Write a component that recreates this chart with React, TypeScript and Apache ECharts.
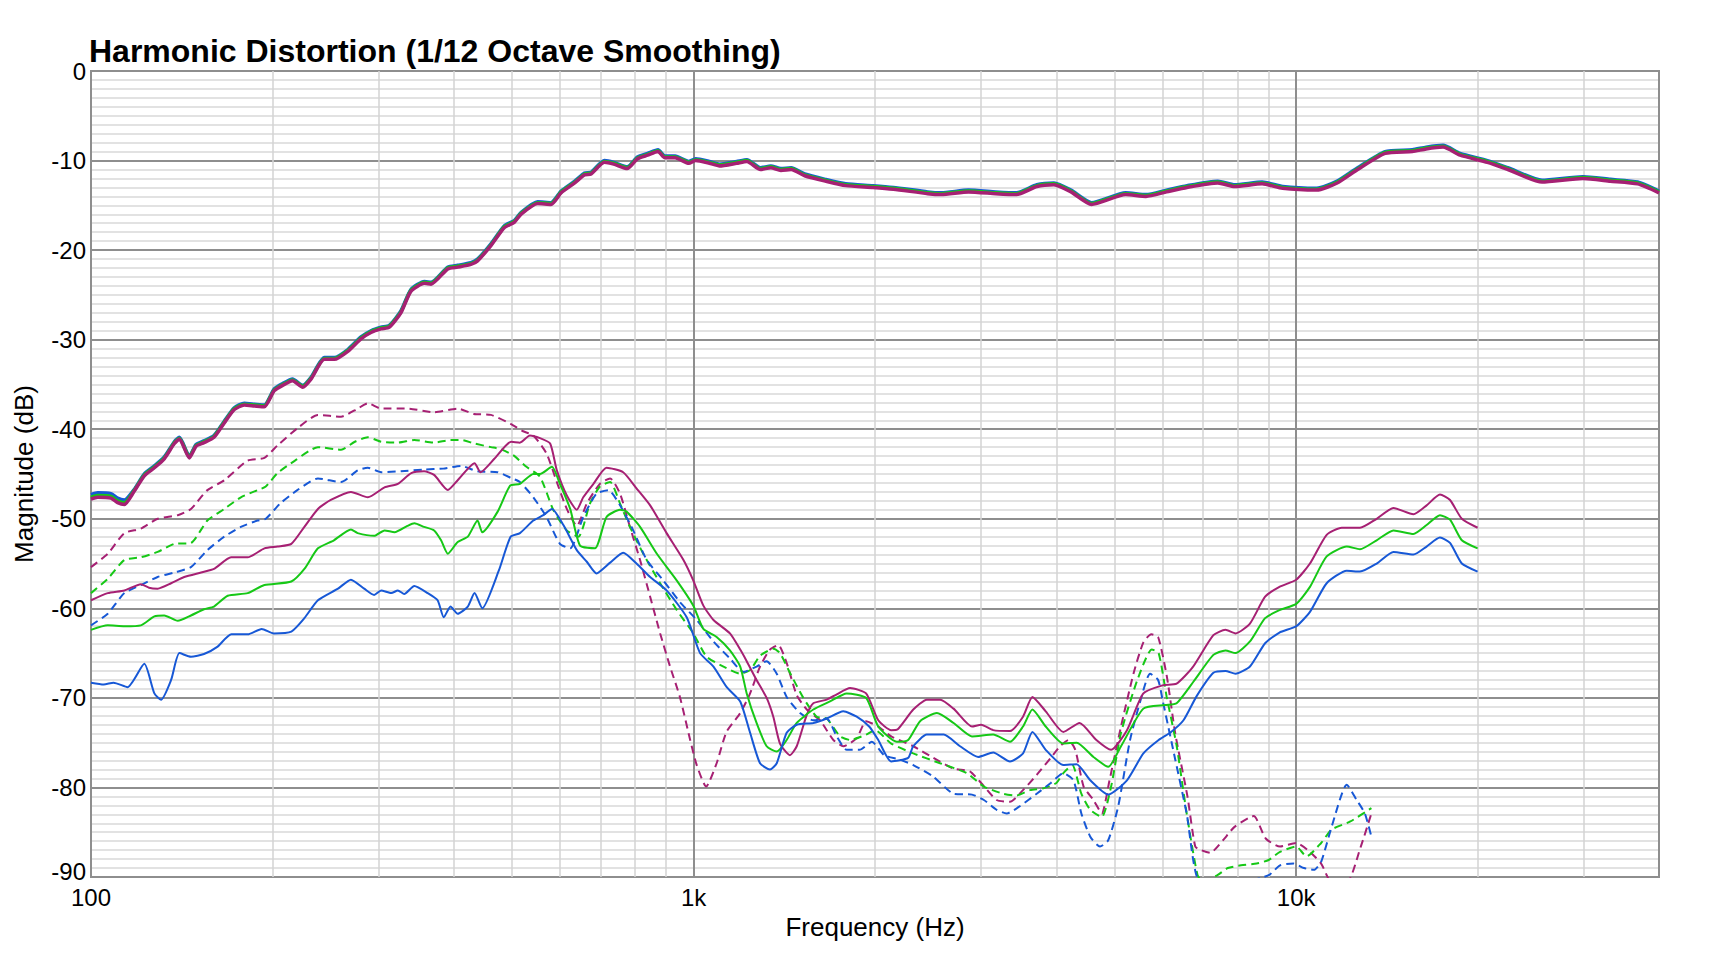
import React, { useEffect, useRef } from 'react';
import * as echarts from 'echarts';

const FONT = '"Liberation Sans", Arial, Helvetica, sans-serif';

const BLUE = '#1758d6';
const GREEN = '#16c816';
const MAGENTA = '#a62073';

// y ticks (dB) and x ticks shown as labels
const yTicks = [0, -10, -20, -30, -40, -50, -60, -70, -80, -90];
const xTickLabels: Record<number, string> = { 100: '100', 1000: '1k', 10000: '10k' };
// light vertical grid lines between decades
const minorGridFreqs = [200, 300, 400, 500, 600, 700, 800, 900, 2000, 3000, 4000, 5000, 6000, 7000, 8000, 9000, 20000, 30000];

// fundamental (three drive levels, almost on top of each other)
const fundFreq = [
  100, 102.6, 107.9, 110.7, 113.6, 118, 122.6, 127.4, 132.3, 137.5,
  140.2, 145.6, 149.4, 154, 160, 166.4, 172.9, 179.6, 186.6, 193.9,
  201.4, 208, 216, 224.5, 231.8, 243.9, 253.4, 266.8, 280.6, 291.5,
  302.9, 312.7, 326.8, 339.5, 357.5, 366.7, 390.8, 406, 427, 438,
  461, 485, 504, 517, 551, 580, 603, 635, 659, 676,
  711, 737, 776, 807, 839, 873, 896, 932, 982, 1008,
  1062, 1104, 1179, 1226, 1291, 1343, 1396, 1452, 1529, 1654,
  1788, 1985, 2146, 2446, 2576, 2859, 3174, 3433, 3712, 3962,
  4229, 4574, 5212, 5633, 6093, 6588, 7411, 7907, 8778, 9493,
  10815, 11695, 12647, 14045, 15588, 16424, 17527, 18707, 20763, 22454,
  25585, 29917, 33210, 36864, 40000,
];
const fundMagenta = [
  -47.8, -47.6, -47.7, -48.2, -48.4, -46.9, -45.2, -44.3, -43.3, -41.6,
  -41.1, -43.2, -41.9, -41.5, -40.9, -39.3, -37.8, -37.3, -37.4, -37.5,
  -35.7, -35.1, -34.6, -35.3, -34.4, -32.2, -32.2, -31.3, -29.9, -29.2,
  -28.8, -28.6, -27.0, -24.6, -23.7, -23.8, -22.1, -21.9, -21.6, -21.2,
  -19.5, -17.5, -16.9, -16.0, -14.8, -14.9, -13.6, -12.5, -11.6, -11.5,
  -10.2, -10.4, -10.9, -9.8, -9.4, -9.0, -9.7, -9.7, -10.3, -10.0,
  -10.3, -10.6, -10.3, -10.1, -11.0, -10.8, -11.1, -11.0, -11.7, -12.3,
  -12.8, -13.0, -13.2, -13.7, -13.8, -13.5, -13.7, -13.8, -12.9, -12.7,
  -13.5, -14.9, -13.8, -14.0, -13.5, -13.0, -12.5, -12.9, -12.6, -13.1,
  -13.3, -12.5, -11.0, -9.2, -9.0, -8.7, -8.5, -9.4, -10.2, -11.0,
  -12.4, -12.0, -12.3, -12.6, -13.6,
];
const fundGreen = [
  -47.6, -47.4, -47.5, -48.0, -48.2, -46.8, -45.1, -44.2, -43.2, -41.5,
  -41.0, -43.1, -41.8, -41.4, -40.8, -39.2, -37.7, -37.2, -37.3, -37.4,
  -35.6, -35.0, -34.5, -35.2, -34.3, -32.1, -32.1, -31.2, -29.8, -29.1,
  -28.7, -28.5, -26.9, -24.5, -23.6, -23.7, -22.0, -21.8, -21.5, -21.1,
  -19.4, -17.4, -16.8, -15.9, -14.7, -14.8, -13.5, -12.4, -11.5, -11.4,
  -10.1, -10.3, -10.8, -9.7, -9.3, -8.9, -9.6, -9.6, -10.2, -9.9,
  -10.2, -10.5, -10.2, -10.0, -10.9, -10.7, -11.0, -10.9, -11.6, -12.2,
  -12.7, -12.9, -13.1, -13.6, -13.7, -13.4, -13.6, -13.7, -12.8, -12.6,
  -13.4, -14.8, -13.7, -13.9, -13.4, -12.9, -12.4, -12.8, -12.5, -13.0,
  -13.2, -12.4, -10.9, -9.1, -8.9, -8.6, -8.4, -9.3, -10.1, -10.9,
  -12.3, -11.9, -12.2, -12.5, -13.5,
];
const fundBlue = [
  -47.3, -47.1, -47.2, -47.7, -47.9, -46.7, -45.0, -44.1, -43.1, -41.4,
  -40.9, -43.0, -41.7, -41.3, -40.7, -39.1, -37.6, -37.1, -37.2, -37.3,
  -35.5, -34.9, -34.4, -35.1, -34.2, -32.0, -32.0, -31.1, -29.7, -29.0,
  -28.6, -28.4, -26.8, -24.4, -23.5, -23.6, -21.9, -21.7, -21.4, -21.0,
  -19.3, -17.3, -16.7, -15.8, -14.6, -14.7, -13.4, -12.3, -11.4, -11.3,
  -10.0, -10.2, -10.7, -9.6, -9.2, -8.8, -9.5, -9.5, -10.1, -9.8,
  -10.1, -10.4, -10.1, -9.9, -10.8, -10.6, -10.9, -10.8, -11.5, -12.1,
  -12.6, -12.8, -13.0, -13.5, -13.6, -13.3, -13.5, -13.6, -12.7, -12.5,
  -13.3, -14.7, -13.6, -13.8, -13.3, -12.8, -12.3, -12.7, -12.4, -12.9,
  -13.1, -12.3, -10.8, -9.0, -8.8, -8.5, -8.3, -9.2, -10.0, -10.8,
  -12.2, -11.8, -12.1, -12.4, -13.4,
];

// 2nd harmonic (solid), [Hz, dB]
const h2Blue: [number, number][] = [
  [100, -68.3], [105, -68.5], [109, -68.3], [115, -68.8], [122.6, -66.2], [127.4, -69.5], [130.7, -70.2],
  [135.8, -68], [140.2, -65], [146.5, -65.4], [154, -65.1], [162, -64.3], [171, -62.9], [182, -62.9],
  [192, -62.3], [201, -62.8], [215, -62.6], [226, -61.1], [238, -59.1], [257, -57.8], [270, -56.8],
  [284, -57.8], [295, -58.5], [303, -58], [315, -58.3], [323, -58], [331, -58.4], [344, -57.5],
  [362, -58.3], [376, -59.1], [385, -61], [395, -59.8], [406, -60.6], [422, -59.8], [433, -58.3],
  [446, -60], [475, -55.8], [497, -52], [515, -51.6], [542, -50.2], [563, -49.6], [582, -48.9],
  [608, -50.7], [640, -53.5], [665, -54.8], [690, -56.1], [727, -54.9], [764, -53.8], [804, -55],
  [847, -56.5], [902, -58], [974, -61], [1025, -65], [1079, -66.5], [1135, -68.8], [1195, -70.4],
  [1241, -73.9], [1289, -77.3], [1339, -78], [1374, -77.3], [1427, -73.9], [1483, -73], [1580, -72.8],
  [1663, -72.3], [1772, -71.5], [1865, -72.1], [1956, -73.2], [2025, -74.7], [2128, -77.1], [2270, -76.7],
  [2315, -75.4], [2438, -74.1], [2600, -74.1], [2768, -75.4], [2966, -76.6], [3141, -76.1], [3350, -77.1],
  [3521, -76.2], [3650, -73.8], [3840, -75.8], [4107, -77.5], [4321, -77.4], [4553, -79.2], [4876, -80.8],
  [5238, -79.2], [5577, -76.2], [5912, -74.7], [6200, -73.8], [6500, -72.5], [6836, -69.8], [7287, -67.2],
  [7630, -67], [7930, -67.3], [8380, -66.5], [8880, -63.9], [9380, -62.7], [10000, -62], [10540, -60.4],
  [11235, -57.2], [12130, -55.8], [12760, -55.9], [13600, -55], [14500, -53.7], [15650, -54], [16460, -53.1],
  [17320, -52.1], [18000, -52.7], [18830, -55], [20000, -55.9],
];
const h2Green: [number, number][] = [
  [100, -62.4], [106.6, -61.9], [113.6, -62], [121, -61.9], [127.4, -60.9], [132.3, -60.8], [139.3, -61.4],
  [146.5, -60.8], [154, -60.1], [160, -59.8], [168.6, -58.6], [182, -58.3], [194, -57.4], [215, -57],
  [226, -55.6], [238, -53.3], [253, -52.4], [270, -51.2], [277, -51.6], [295, -51.9], [307, -51.3],
  [319, -51.5], [335, -50.8], [344, -50.5], [357, -50.9], [371, -51.3], [381, -52.4], [391, -53.9],
  [406, -52.6], [422, -52], [438, -50.2], [446, -51.5], [473, -49.2], [496, -46.3], [515, -46.1],
  [542, -45], [556, -45], [582, -44.2], [600, -46.1], [624, -48.9], [648, -53], [686, -53.3],
  [717, -49.8], [755, -49], [774, -49.2], [815, -50.9], [869, -53.9], [938, -56.9], [999, -59.7],
  [1038, -62.3], [1092, -63.2], [1149, -64.7], [1195, -66.5], [1225, -69.5], [1272, -72.8], [1322, -75.4],
  [1374, -76], [1427, -74.7], [1483, -72.8], [1580, -71.3], [1684, -70.4], [1795, -69.5], [1933, -70],
  [2025, -73.2], [2173, -74.9], [2270, -74.7], [2376, -72.6], [2534, -71.7], [2700, -72.8], [2897, -74.3],
  [3141, -74.1], [3350, -74.9], [3521, -73.2], [3650, -71.3], [3840, -73.2], [4107, -75.1], [4321, -75],
  [4609, -76.6], [4876, -77.7], [5120, -75.4], [5577, -71.2], [6066, -70.8], [6332, -70.6], [6751, -68.2],
  [7287, -65.2], [7630, -64.7], [7930, -65], [8380, -63.7], [8880, -61.1], [9380, -60.2], [10000, -59.5],
  [10540, -57.6], [11235, -54.2], [12130, -53.1], [12760, -53.4], [13600, -52.4], [14500, -51.3], [15650, -51.7],
  [16460, -50.7], [17320, -49.6], [18000, -50.1], [18830, -52.4], [20000, -53.3],
];
const h2Magenta: [number, number][] = [
  [100, -59.1], [106.6, -58.3], [113.6, -58], [121, -57.3], [124.8, -57.7], [129, -57.8], [135.8, -57.2],
  [142.8, -56.5], [152.3, -56], [160, -55.6], [170.8, -54.3], [182, -54.3], [194, -53.3], [204, -53.1],
  [215, -52.8], [226, -50.9], [238, -48.9], [250, -47.9], [270, -47], [288, -47.6], [307, -46.5],
  [323, -46.1], [340, -44.9], [357, -44.7], [371, -45.1], [391, -46.8], [406, -45.7], [433, -43.8],
  [443, -44.8], [467, -43.3], [498, -41.4], [515, -41.5], [535, -40.7], [556, -41], [578, -41.6],
  [593, -44.6], [616, -47.4], [640, -49], [656, -47.6], [682, -46.1], [717, -44.3], [764, -44.8],
  [804, -46.6], [847, -48.5], [902, -51.6], [962, -54.6], [999, -56.9], [1038, -59.7], [1079, -61.3],
  [1149, -62.8], [1195, -64.6], [1225, -65.9], [1272, -68], [1322, -70], [1356, -72.1], [1391, -75.1],
  [1445, -76.4], [1483, -75.4], [1541, -71.9], [1580, -70.6], [1663, -70.2], [1728, -69.6], [1818, -68.9],
  [1933, -69.5], [2025, -72.5], [2128, -73.6], [2182, -73.5], [2315, -71.3], [2438, -70.2], [2565, -70.2],
  [2700, -71.2], [2897, -73.2], [3000, -73], [3141, -73.6], [3350, -73.7], [3521, -72.1], [3650, -69.9],
  [3840, -71.5], [4107, -73.8], [4370, -72.8], [4660, -74.7], [4930, -75.8], [5238, -73.6], [5577, -69.5],
  [6000, -68.6], [6332, -68.4], [6730, -66.6], [7287, -63], [7630, -62.4], [7930, -62.8], [8380, -61.7],
  [8880, -58.7], [9380, -57.6], [10000, -56.8], [10540, -55], [11235, -51.8], [11900, -51], [12760, -51],
  [13600, -50], [14500, -48.8], [15650, -49.5], [16460, -48.5], [17320, -47.3], [18000, -47.9], [18830, -50],
  [20000, -51],
];

// 3rd harmonic (dashed), [Hz, dB]
const h3Blue: [number, number][] = [
  [100, -61.9], [106.6, -60.6], [113.6, -58.3], [121, -57.4], [129, -56.5], [137.5, -56], [146.5, -55.4],
  [156, -53.5], [166.4, -52], [177.3, -50.9], [189, -50.2], [195, -50], [206, -48.3], [220, -46.8],
  [238, -45.5], [260, -45.9], [277, -44.6], [288, -44.3], [303, -44.8], [327, -44.7], [357, -44.5],
  [384, -44.4], [411, -44.1], [438, -44.7], [473, -44.8], [500, -45.5], [515, -45.9], [542, -47.6],
  [570, -49.8], [600, -52.8], [624, -53.3], [656, -49.8], [690, -47.2], [722, -46.8], [755, -48.5],
  [794, -51.3], [836, -54.6], [891, -56.9], [949, -59.3], [1012, -61.3], [1079, -63.7], [1149, -65.6],
  [1210, -67.1], [1272, -66.5], [1322, -65.9], [1374, -67.3], [1427, -69.9], [1502, -71.7], [1580, -72.5],
  [1663, -72.3], [1728, -74.3], [1795, -75.8], [1885, -75.8], [1976, -74.9], [2072, -76.4], [2200, -76.9],
  [2315, -77.5], [2500, -78.8], [2700, -80.7], [2897, -80.8], [3032, -81.4], [3184, -82.5], [3308, -82.9],
  [3478, -82.1], [3710, -80.7], [3915, -79.5], [4107, -78.4], [4270, -79.2], [4400, -82.9], [4553, -85.5],
  [4725, -86.6], [4876, -85.9], [5066, -82.1], [5300, -74.7], [5520, -70.2], [5721, -67.3], [5900, -68],
  [6000, -70.2], [6300, -76.9], [6580, -82.9], [6900, -90.3], [7500, -90.3], [8200, -90.5], [9000, -89.8],
  [9400, -88.7], [9900, -88.5], [10300, -89], [10700, -89.2], [11000, -88.3], [11450, -84.4], [12130, -79.7],
  [12600, -81.4], [13000, -82.9], [13330, -85.5],
];
const h3Green: [number, number][] = [
  [100, -58.3], [106.6, -56.7], [113.6, -54.6], [121, -54.3], [129, -53.7], [137.5, -52.8], [146.5, -52.7],
  [156, -50.2], [166.4, -48.9], [177.3, -47.6], [189, -46.8], [195, -46.4], [204, -44.9], [218, -43.5],
  [238, -42], [260, -42.3], [274, -41.4], [288, -40.9], [303, -41.4], [323, -41.5], [344, -41.2],
  [371, -41.5], [395, -41.2], [411, -41.2], [433, -41.6], [461, -42], [477, -42.2], [502, -42.9],
  [528, -44.2], [556, -45.3], [585, -49], [616, -51.3], [644, -52], [673, -48.3], [699, -46.4],
  [727, -45.9], [755, -48.3], [784, -50.9], [825, -53.9], [880, -57.2], [938, -60.2], [999, -62.8],
  [1051, -65.4], [1121, -66.5], [1195, -67.3], [1241, -66.9], [1289, -65.3], [1356, -64.5], [1391, -65],
  [1445, -67.2], [1521, -70], [1600, -72.1], [1663, -72.3], [1750, -74.3], [1818, -74.7], [1933, -74.1],
  [2000, -73.6], [2128, -75.1], [2315, -76.2], [2565, -77.3], [2840, -78.4], [3032, -79.9], [3265, -80.7],
  [3433, -80.9], [3617, -80.3], [3805, -80.1], [4000, -79.5], [4107, -78.4], [4250, -77.5], [4400, -80.7],
  [4553, -82.5], [4757, -83.3], [4930, -79.9], [5120, -73.9], [5450, -68], [5760, -64.6], [5912, -65],
  [6097, -69.9], [6335, -75.4], [6580, -82.9], [6860, -89.8], [7015, -90.5], [7400, -89.8], [7700, -89],
  [8100, -88.7], [8600, -88.5], [9000, -88.1], [9400, -87.2], [10000, -86.6], [10400, -87.7], [11000, -86.2],
  [11450, -84.7], [12300, -83.8], [13330, -82.3],
];
const h3Magenta: [number, number][] = [
  [100, -55.4], [106.6, -53.9], [113.6, -51.6], [121, -51.1], [129, -50], [139.3, -49.6], [146.5, -48.9],
  [156, -46.8], [166.4, -45.7], [182, -43.5], [194, -43.2], [204, -41.8], [220, -39.9], [238, -38.4],
  [260, -38.6], [277, -37.7], [288, -37.1], [303, -37.7], [335, -37.7], [371, -38.1], [406, -37.7],
  [432, -38.3], [461, -38.4], [497, -39.4], [520, -40.2], [542, -40.7], [570, -42.7], [593, -45.9],
  [616, -48.9], [640, -50.8], [665, -48.3], [699, -46.1], [727, -45.5], [755, -47.2], [784, -50.9],
  [815, -54.6], [847, -58.7], [880, -62.8], [914, -66.5], [949, -69.9], [987, -74.7], [1012, -77.5],
  [1049, -79.9], [1092, -77.3], [1134, -73.8], [1195, -71.7], [1241, -69.5], [1289, -66.5], [1339, -64.6],
  [1382, -64.1], [1427, -66.1], [1483, -69.7], [1541, -71.3], [1621, -72.5], [1706, -74.7], [1772, -75.4],
  [1865, -74.5], [1933, -72.6], [2025, -73.2], [2128, -74.3], [2315, -75.4], [2500, -76.7], [2700, -77.9],
  [2873, -78.2], [3000, -79.5], [3184, -81.4], [3350, -81.6], [3521, -80.3], [3710, -78.6], [3915, -76.7],
  [4056, -75.4], [4190, -74.7], [4300, -75.8], [4438, -79.9], [4609, -81.4], [4757, -82.9], [4900, -79.2],
  [5120, -73.2], [5370, -67.3], [5577, -63.8], [5750, -62.9], [5900, -63.2], [6100, -67.6], [6300, -74],
  [6600, -81], [6800, -86.6], [6960, -87], [7200, -87.3], [7560, -85.9], [7900, -84.4], [8500, -83.2],
  [8900, -85.7], [9400, -86.6], [10000, -86.2], [10500, -87.1], [11000, -88.5], [11400, -90.5], [12100, -90.8],
  [12800, -86.6], [13300, -83.1],
];

const zip = (xs: number[], ys: number[]) => xs.map((x, i) => [x, ys[i]]);

const thin = (name: string, data: [number, number][], color: string, dashed: boolean) => ({
  name,
  type: 'line',
  data,
  showSymbol: false,
  symbol: 'none',
  silent: true,
  smooth: 0.2,
  z: 3,
  lineStyle: { color, width: 2, type: dashed ? [8, 5] : 'solid' },
});

const thick = (name: string, values: number[], color: string, z: number) => ({
  name,
  type: 'line',
  data: zip(fundFreq, values),
  showSymbol: false,
  symbol: 'none',
  silent: true,
  smooth: 0.2,
  z,
  lineStyle: { color, width: 3.5 },
});

const App: React.FC = () => {
  const chartRef = useRef<HTMLDivElement>(null);

  useEffect(() => {
    const chart = echarts.init(chartRef.current!, null, { renderer: 'svg' });

    const labelFont = { fontSize: 24, color: '#000', fontFamily: FONT };

    const option = {
      animation: false,
      backgroundColor: '#ffffff',
      title: {
        text: 'Harmonic Distortion (1/12 Octave Smoothing)',
        left: 89,
        top: 35,
        padding: 0,
        textStyle: { fontSize: 32, fontWeight: 'bold', color: '#000', fontFamily: FONT },
      },
      grid: {
        left: 91,
        right: 65,
        top: 71,
        bottom: 77,
        show: true,
        borderColor: '#8e8e8e',
        borderWidth: 2,
      },
      xAxis: {
        type: 'log',
        logBase: 10,
        min: 100,
        max: 40000,
        name: 'Frequency (Hz)',
        nameLocation: 'middle',
        nameGap: 28,
        nameTextStyle: { fontSize: 26, color: '#000', fontFamily: FONT },
        axisLine: { show: false },
        axisTick: { show: false },
        axisLabel: {
          ...labelFont,
          lineHeight: 18,
          margin: 11,
          showMaxLabel: false,
          formatter: (v: number) => xTickLabels[Math.round(v)] ?? '',
        },
        splitLine: { show: true, lineStyle: { color: '#8e8e8e', width: 2 } },
      },
      yAxis: {
        type: 'value',
        min: yTicks[yTicks.length - 1],
        max: yTicks[0],
        interval: 10,
        name: 'Magnitude (dB)',
        nameLocation: 'middle',
        nameGap: 54,
        nameRotate: 90,
        nameTextStyle: { fontSize: 26, color: '#000', fontFamily: FONT },
        axisLine: { show: false },
        axisTick: { show: false },
        axisLabel: {
          ...labelFont,
          lineHeight: 18,
          margin: 5,
          // lift the bottom label a little so it clears the "100" below it
          formatter: (v: number) => (v === yTicks[yTicks.length - 1] ? `{low|${v}}` : `${v}`),
          rich: { low: { ...labelFont, lineHeight: 18, padding: [0, 0, 12, 0] } },
        },
        splitLine: { show: true, lineStyle: { color: '#8e8e8e', width: 2 } },
        minorTick: { show: false, splitNumber: 10 },
        minorSplitLine: { show: true, lineStyle: { color: '#d8d8d8', width: 1.5 } },
      },
      series: [
        {
          name: 'grid',
          type: 'line',
          data: [],
          silent: true,
          z: 1,
          markLine: {
            silent: true,
            z: 1,
            symbol: ['none', 'none'],
            label: { show: false },
            animation: false,
            lineStyle: { color: '#d3d3d3', width: 1.5, type: 'solid' },
            emphasis: { disabled: true },
            data: minorGridFreqs.map((f) => ({ xAxis: f })),
          },
        },
        thin('H3 high', h3Magenta, MAGENTA, true),
        thin('H3 mid', h3Green, GREEN, true),
        thin('H3 low', h3Blue, BLUE, true),
        thin('H2 high', h2Magenta, MAGENTA, false),
        thin('H2 mid', h2Green, GREEN, false),
        thin('H2 low', h2Blue, BLUE, false),
        thick('Fundamental low', fundBlue, BLUE, 4),
        thick('Fundamental mid', fundGreen, GREEN, 5),
        thick('Fundamental high', fundMagenta, MAGENTA, 6),
      ],
    };

    chart.setOption(option);

    const handleResize = () => chart.resize();
    window.addEventListener('resize', handleResize);

    return () => {
      window.removeEventListener('resize', handleResize);
      chart.dispose();
    };
  }, []);

  return (
    <div
      ref={chartRef}
      style={{ position: 'fixed', left: 0, top: 0, width: '100vw', height: '100vh', background: '#fff' }}
    />
  );
};

export default App;
